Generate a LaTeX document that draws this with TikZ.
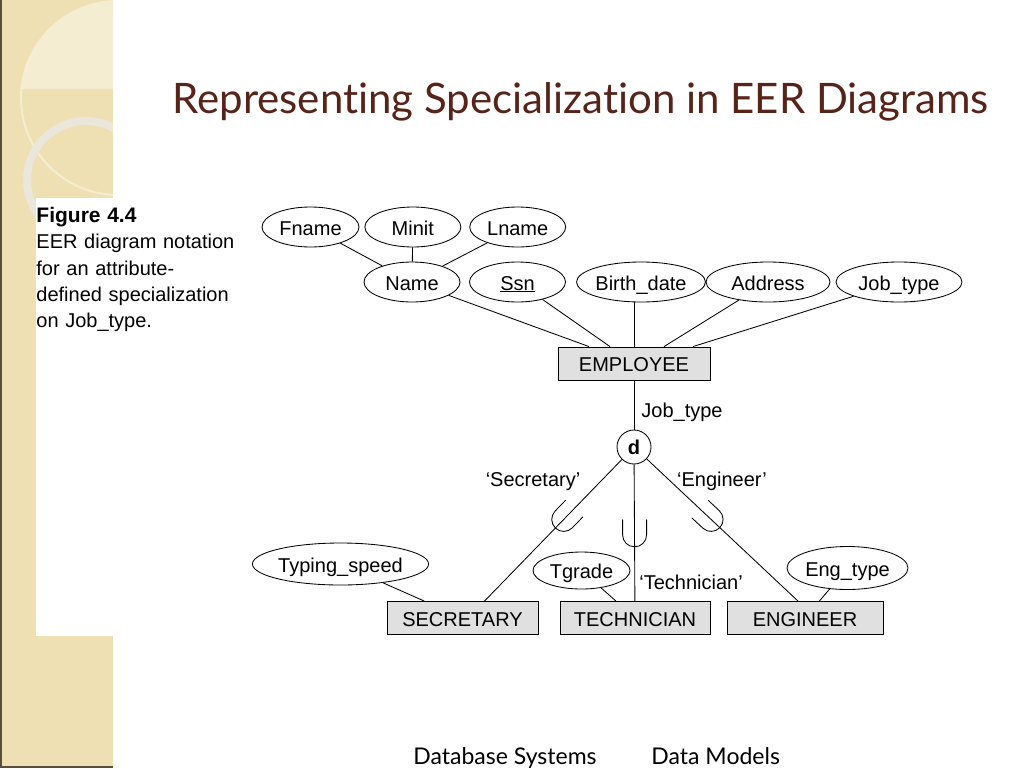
\documentclass[tikz,border=0pt]{standalone}
\usepackage{fontspec}
\setmainfont{Liberation Sans}
\newfontfamily\titlefont[Ligatures={NoCommon,NoContextual}]{Lato}
\usepackage{xcolor}
\usetikzlibrary{shapes.geometric, positioning, calc}

\definecolor{titlebrown}{RGB}{88,36,26}
\definecolor{stripbg}{RGB}{238,224,178}
\definecolor{striplight}{RGB}{245,237,210}
\definecolor{ringgray}{RGB}{234,230,220}
\definecolor{stripedge}{RGB}{90,78,60}
\definecolor{entgray}{RGB}{224,224,224}

\begin{document}
\begin{tikzpicture}[
    x=1pt, y=-1pt,
    font=\fontsize{20}{23}\selectfont,
    line width=0.85pt,
    attr/.style={ellipse, draw, inner sep=0pt, minimum width=96pt, minimum height=40pt, text height=16pt, text depth=0pt},
    ent/.style={rectangle, draw, fill=entgray, inner sep=0pt, minimum width=151pt, minimum height=33pt, text height=16pt, text depth=0pt},
    disj/.style={circle, draw, fill=white, inner sep=0pt, minimum size=34pt, font=\fontsize{20}{23}\selectfont\bfseries},
    lbl/.style={inner sep=1pt, text height=16pt, text depth=0pt},
    subs/.style={line width=0.85pt, line cap=round},
]

% page and left strip
\useasboundingbox (0,0) rectangle (1024,768);
\fill[white] (0,0) rectangle (1024,768);
\fill[stripbg] (0,0) rectangle (113,768);
\begin{scope}
  \clip (0,0) rectangle (113,88);
  \fill[striplight] (118,98) circle (97);
\end{scope}
\begin{scope}
  \clip (0,0) rectangle (113,768);
  \draw[striplight, line width=2pt] (118,98) circle (97);
  \draw[ringgray, line width=8pt] (86,180) circle (59);
\end{scope}
\fill[white] (36,198) rectangle (113,636);
\draw[stripedge, line width=2pt] (1,0) -- (1,768);
\draw[stripedge, line width=2pt] (0,767) -- (113,767);

% title, caption, footer
\node[anchor=base west, inner sep=0pt, font=\titlefont\fontsize{42}{48}\selectfont, text=titlebrown] (title) at (172,113) {Representing Specialization in EER Diagrams};
\node[anchor=north west, inner sep=0pt, text width=215pt, align=left, font=\fontsize{20}{26.3}\selectfont] (caption) at (36,207)
  {{\fontsize{21}{26.3}\selectfont\bfseries Figure 4.4}\\EER diagram notation\\for an attribute-\\defined specialization\\on Job\_type.};
\node[anchor=base west, inner sep=0pt, font=\titlefont\fontsize{23}{27}\selectfont] (dbs) at (413,764) {Database Systems};
\node[anchor=base west, inner sep=0pt, font=\titlefont\fontsize{23}{27}\selectfont] (dm) at (651,764) {Data Models};

% attributes of EMPLOYEE
\node[attr, minimum width=97pt] (fname) at (310.5,227) {Fname};
\node[attr, right=5pt of fname] (minit) {Minit};
\node[attr, right=8pt of minit] (lname) {Lname};
\node[attr] (name) at (412,282) {Name};
\node[attr] (ssn) at (517.5,282) {\underline{Ssn}};
\node[attr, minimum width=114pt] (bdate) at (641,282) {Birth\_date};
\node[attr, minimum width=124pt] (addr) at (768,282) {Address};
\node[attr, minimum width=126pt] (jobt) at (899,282) {Job\_type};

% entities
\node[ent, minimum width=152pt] (emp) at (634,363.5) {EMPLOYEE};
\node[disj] (d) at (634,447) {d};
\node[ent] (sec) at (462.5,618) {SECRETARY};
\node[ent, minimum width=150pt] (tech) at (635,618) {TECHNICIAN};
\node[ent, minimum width=156pt] (eng) at (805,618) {ENGINEER};

% local attributes
\node[attr, minimum width=155pt, minimum height=42pt] (typsp) at (340.5,564) {Typing\_speed};
\node[attr, minimum width=97pt, minimum height=37pt] (tgrade) at (581.5,570.5) {Tgrade};
\node[attr, minimum width=121pt, minimum height=43pt] (engt) at (847.5,568) {Eng\_type};

% labels
\node[lbl] (jtlbl) at (682,409) {Job\_type};
\node[lbl] (seclbl) at (533,478) {‘Secretary’};
\node[lbl] (englbl) at (722,478) {‘Engineer’};
\node[lbl] (techlbl) at (691,581) {‘Technician’};

% connectors
\draw (fname) -- (name);
\draw (minit) -- (name);
\draw (lname) -- (name);
\draw (name) -- ([xshift=-45pt]emp.north);
\draw (ssn) -- ([xshift=-24pt]emp.north);
\draw (emp.north) -- (emp.north |- bdate.south);
\draw (addr) -- ([xshift=30pt]emp.north);
\draw (jobt) -- ([xshift=59pt]emp.north);
\draw (emp) -- (d);

\coordinate (secend) at ([xshift=22pt]sec.north);
\coordinate (engend) at ([xshift=-7pt]eng.north);
\draw (d) -- (secend);
\draw (d) -- (tech);
\draw (d) -- (engend);

\draw (typsp) -- (sec);
\draw (tgrade) -- (tech);
\draw (engt) -- (eng);

% subset marks
\draw[subs, shift={($(d)!0.47!(secend)$)}, rotate=-44] (-12,-15) -- (-12,0) arc[start angle=180, end angle=0, radius=12] -- (12,-15);
\draw[subs, shift={($(d)!0.57!(tech.north)$)}] (-12,-15) -- (-12,0) arc[start angle=180, end angle=0, radius=12] -- (12,-15);
\draw[subs, shift={($(d)!0.47!(engend)$)}, rotate=47] (-12,-15) -- (-12,0) arc[start angle=180, end angle=0, radius=12] -- (12,-15);

\end{tikzpicture}
\end{document}
